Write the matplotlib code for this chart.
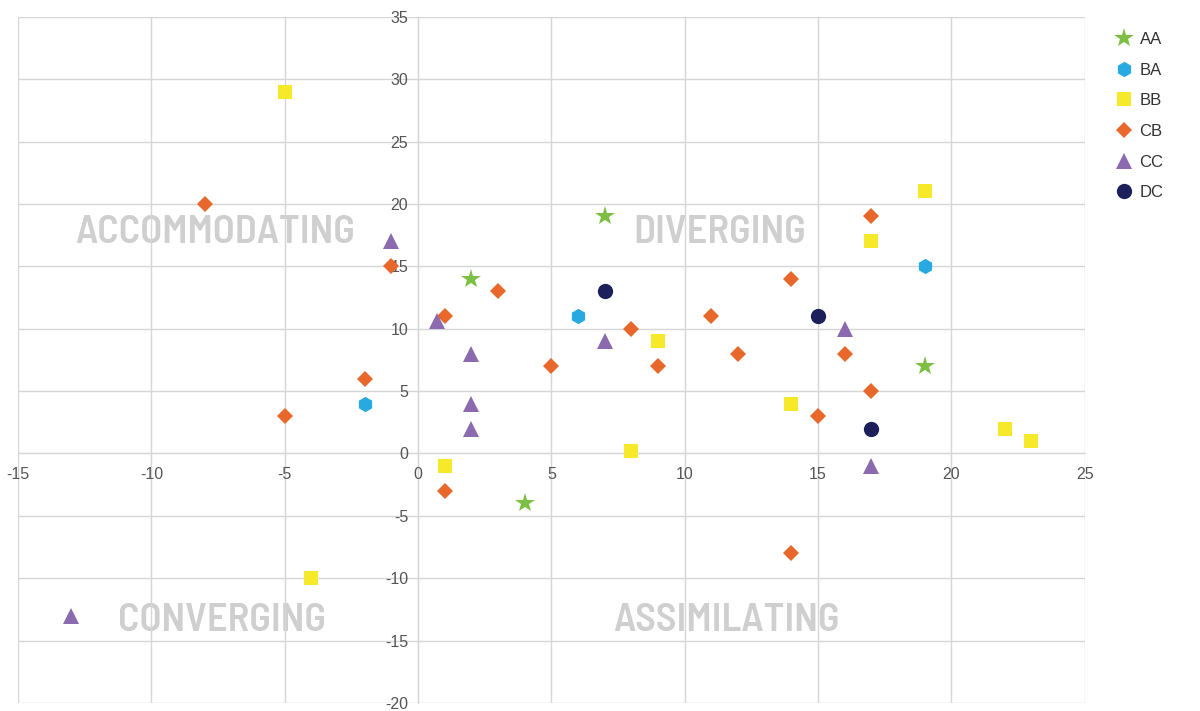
import matplotlib
matplotlib.use("Agg")
import matplotlib.pyplot as plt

series_names = ["AA", "BA", "BB", "CB", "CC", "DC"]

aa_x = [7, 2, 4, 19]
aa_y = [19, 14, -4, 7]

ba_x = [-2, 6, 19]
ba_y = [4, 11, 15]

bb_x = [-5, -4, 1, 8, 9, 14, 17, 19, 22, 23]
bb_y = [29, -10, -1, 0.2, 9, 4, 17, 21, 2, 1]

cb_x = [-8, -5, -2, -1, 1, 1, 3, 5, 8, 9, 11, 12, 14, 14, 15, 16, 17, 17]
cb_y = [20, 3, 6, 15, 11, -3, 13, 7, 10, 7, 11, 8, 14, -8, 3, 8, 19, 5]

cc_x = [-13, -1, 0.7, 2, 2, 2, 7, 16, 17]
cc_y = [-13, 17, 10.6, 8, 4, 2, 9, 10, -1]

dc_x = [7, 15, 17]
dc_y = [13, 11, 2]

quadrant_labels = ["ACCOMMODATING", "DIVERGING", "CONVERGING", "ASSIMILATING"]
quadrant_x = [-7.6, 11.33, -7.36, 11.57]
quadrant_y = [16.84, 16.84, -14.27, -14.27]

x_ticks = [-15, -10, -5, 0, 5, 10, 15, 20, 25]
y_ticks = [-20, -15, -10, -5, 0, 5, 10, 15, 20, 25, 30, 35]

plt.rcParams['font.family'] = ['Liberation Sans', 'DejaVu Sans']
plt.rcParams['axes.unicode_minus'] = False

fig = plt.figure(figsize=(12, 7.11), dpi=100)
ax = fig.add_axes([0.015, 0.0113, 0.889, 0.965])

ax.set_xlim(-15, 25)
ax.set_ylim(-20, 35)
ax.set_xticks(x_ticks)
ax.set_yticks(y_ticks)

grid_color = "#d6d6d6"
ax.grid(True, color=grid_color, linewidth=1.0, zorder=0.5)
ax.set_axisbelow(True)

for s in ["top", "right"]:
    ax.spines[s].set_visible(False)
ax.spines["left"].set_position(("data", 0))
ax.spines["bottom"].set_position(("data", 0))
ax.spines["left"].set_color(grid_color)
ax.spines["bottom"].set_color(grid_color)
ax.spines["left"].set_zorder(0.5)
ax.spines["bottom"].set_zorder(0.5)

ax.tick_params(axis="both", length=0, labelsize=11.5, labelcolor="#555555")
ax.tick_params(axis="y", pad=7)
ax.tick_params(axis="x", pad=10)

for lbl, qx, qy in zip(quadrant_labels, quadrant_x, quadrant_y):
    ax.text(qx, qy, lbl, ha="center", va="baseline", fontsize=29, fontweight=600,
            color="#cfcfcf", family=["Barlow Semi Condensed", "DejaVu Sans"], zorder=0.3)

styles = [
    (aa_x, aa_y, "*", "#7cbf43", 15),
    (ba_x, ba_y, "h", "#27a9e1", 11),
    (bb_x, bb_y, "s", "#f5e92a", 9.5),
    (cb_x, cb_y, "D", "#e8672a", 8),
    (cc_x, cc_y, "^", "#8c6aaf", 11),
    (dc_x, dc_y, "o", "#1d1f5b", 11),
]
for name, (xs, ys, m, c, ms) in zip(series_names, styles):
    ax.plot(xs, ys, linestyle="none", marker=m, color=c, markersize=ms,
            markeredgewidth=0, label=name, zorder=3)

ax.legend(loc="upper left", bbox_to_anchor=(1.013, 1.0), frameon=False,
          fontsize=12, handletextpad=0.35, labelspacing=0.94, handlelength=1.2,
          labelcolor="#333333")

fig.savefig("out.png", dpi=100)
